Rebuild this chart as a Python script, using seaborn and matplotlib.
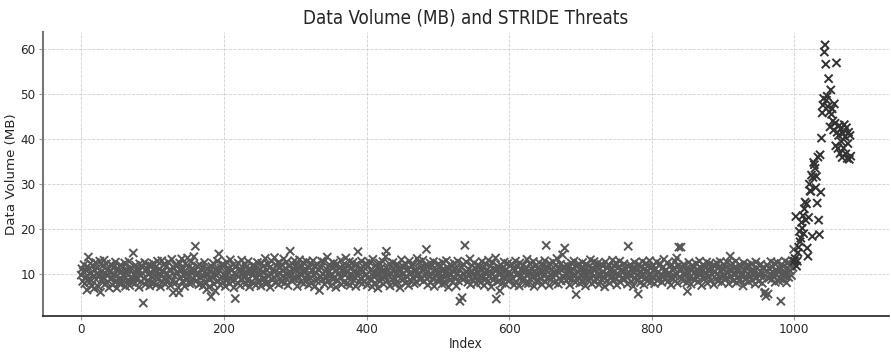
import numpy as np
import pandas as pd
import matplotlib.pyplot as plt
import seaborn as sns

# normal traffic, index 0-999
normal_volume = [
    9.8, 11.2, 8.4, 10.6, 12.1, 7.9, 9.3, 10.8, 6.5, 11.7, 13.8, 9.1, 8.2, 12.4, 10.3, 7.4, 11.9, 9.6, 6.8, 10.9,
    12.6, 8.8, 10.1, 11.4, 7.2, 9.9, 12.9, 6.0, 10.5, 8.6, 11.8, 9.4, 13.1, 7.7, 10.2, 12.3, 8.1, 9.7, 11.1, 7.0,
    10.4, 8.9, 12.2, 9.2, 7.6, 11.5, 10.0, 8.3, 12.7, 9.5, 6.9, 11.3, 10.7, 8.0, 9.0, 12.0, 7.8, 10.6, 11.6, 8.7,
    9.6, 12.5, 7.3, 10.3, 11.0, 8.5, 9.8, 12.8, 7.5, 10.9, 11.4, 8.2, 9.1, 14.7, 10.1, 7.9, 12.0, 9.4, 8.8, 11.2,
    10.5, 7.1, 12.3, 9.7, 8.4, 11.6, 10.2, 3.6, 9.0, 12.6, 7.7, 10.8, 11.3, 8.6, 9.9, 12.1, 7.4, 10.4, 8.1, 11.8,
    9.3, 12.4, 8.0, 10.7, 11.5, 7.6, 9.5, 12.9, 8.9, 10.0, 11.1, 7.2, 9.8, 13.0, 8.3, 10.6, 12.2, 9.1, 7.8, 11.7,
    10.2, 8.7, 12.7, 9.4, 11.0, 7.5, 10.9, 13.3, 8.5, 5.9, 11.4, 9.6, 12.0, 8.2, 10.4, 11.9, 7.0, 5.9, 12.5, 9.2,
    10.8, 13.4, 8.4, 11.2, 9.7, 7.3, 12.3, 10.1, 8.8, 13.6, 9.5, 11.6, 7.9, 10.5, 12.8, 8.1, 11.3, 9.0, 13.9, 10.7,
    16.2, 9.8, 8.6, 11.8, 10.3, 7.7, 12.1, 9.3, 8.0, 10.9, 11.5, 7.4, 9.6, 12.6, 8.3, 10.0, 6.6, 11.2, 9.9, 7.1,
    10.6, 8.9, 5.0, 11.7, 9.2, 12.4, 7.8, 10.2, 6.3, 11.1, 9.7, 12.9, 8.5, 14.5, 10.8, 7.6, 11.4, 9.4, 12.2, 8.2,
    10.0, 11.9, 7.3, 9.6, 12.7, 8.7, 10.5, 11.3, 7.9, 13.2, 9.1, 10.9, 8.4, 12.1, 7.0, 10.3, 4.6, 11.6, 9.8, 8.1,
    12.5, 9.5, 10.7, 7.5, 11.0, 13.1, 8.8, 10.1, 9.3, 12.3, 7.7, 11.5, 10.4, 8.6, 12.8, 9.0, 7.2, 11.2, 10.6, 8.3,
    9.7, 12.0, 8.0, 10.8, 11.7, 7.6, 9.4, 12.6, 10.2, 8.5, 11.1, 9.9, 7.4, 12.4, 10.5, 8.9, 11.8, 9.2, 13.5, 7.8,
    10.9, 8.2, 12.2, 9.6, 11.4, 7.1, 10.0, 12.9, 8.7, 11.0, 9.3, 13.7, 10.6, 8.1, 11.9, 9.8, 12.5, 7.7, 10.3, 11.6,
    8.4, 12.1, 9.5, 10.7, 13.4, 8.0, 11.3, 9.1, 12.7, 10.1, 7.5, 11.8, 9.7, 15.1, 10.4, 8.6, 12.3, 9.0, 11.1, 13.0,
    8.9, 10.8, 12.0, 7.3, 11.5, 9.4, 13.2, 10.2, 8.3, 11.7, 9.9, 12.6, 7.9, 10.5, 11.2, 8.7, 12.8, 9.6, 10.0, 7.6,
    11.4, 9.2, 12.4, 8.1, 10.7, 13.0, 9.8, 7.2, 11.9, 10.3, 8.5, 12.2, 9.0, 10.9, 6.4, 11.6, 9.5, 12.9, 8.8, 10.1,
    12.7, 7.8, 10.6, 9.3, 11.1, 13.8, 8.4, 10.4, 12.1, 9.7, 7.4, 11.5, 10.0, 8.9, 12.5, 9.1, 11.8, 7.1, 10.8, 12.3,
    8.6, 10.2, 11.3, 9.4, 13.1, 7.7, 10.9, 12.0, 8.2, 11.0, 9.8, 13.6, 10.5, 8.0, 11.7, 9.2, 12.8, 7.5, 10.1, 11.4,
    9.6, 12.6, 8.7, 10.7, 11.9, 7.3, 9.9, 12.2, 15.0, 10.3, 8.3, 11.2, 9.0, 12.9, 7.9, 10.6, 11.6, 8.5, 9.7, 12.4,
    10.0, 7.6, 11.8, 9.3, 12.7, 8.8, 10.8, 11.1, 7.2, 13.3, 9.5, 10.4, 8.1, 12.0, 9.8, 11.5, 6.9, 10.2, 12.5, 8.4,
    11.3, 9.1, 10.6, 12.8, 7.8, 10.9, 9.4, 13.9, 15.1, 8.6, 11.0, 9.7, 12.3, 7.4, 10.1, 11.7, 8.9, 12.6, 10.5, 9.2,
    7.7, 11.9, 10.3, 8.3, 12.1, 9.6, 11.4, 7.0, 10.7, 13.2, 8.7, 10.0, 11.6, 9.0, 12.4, 8.0, 10.8, 9.5, 11.2, 7.5,
    12.9, 9.9, 10.4, 8.5, 11.8, 9.3, 12.2, 7.9, 10.6, 11.0, 8.2, 13.5, 9.7, 10.2, 12.7, 8.8, 11.5, 9.1, 10.9, 13.1,
    8.4, 11.3, 9.6, 12.0, 15.5, 10.5, 7.6, 11.7, 9.4, 12.5, 8.1, 10.1, 11.9, 9.0, 12.8, 7.3, 10.7, 9.8, 11.1, 8.6,
    10.3, 12.3, 8.9, 11.6, 9.2, 10.8, 7.8, 12.6, 9.5, 11.0, 8.0, 10.4, 13.0, 9.7, 11.4, 7.1, 10.0, 12.1, 8.7, 9.9,
    11.8, 8.3, 10.6, 12.4, 9.1, 11.2, 7.4, 10.2, 12.9, 8.5, 10.9, 4.0, 9.6, 11.5, 4.8, 8.8, 12.2, 10.1, 16.4, 9.3,
    12.7, 10.5, 8.2, 11.1, 9.8, 13.4, 7.7, 10.7, 11.9, 8.6, 10.0, 12.5, 9.4, 11.3, 7.9, 10.4, 12.0, 8.9, 9.6, 11.7,
    8.1, 10.8, 12.8, 9.2, 11.4, 7.5, 10.3, 12.3, 9.0, 11.0, 8.4, 13.1, 10.6, 9.7, 11.8, 7.2, 10.1, 12.6, 8.7, 11.2,
    9.5, 13.6, 4.5, 10.9, 8.3, 11.6, 9.9, 6.3, 12.1, 10.2, 8.0, 11.5, 9.3, 12.7, 10.7, 7.8, 11.0, 9.6, 12.4, 8.5,
    10.5, 11.9, 8.8, 10.0, 12.2, 9.1, 11.3, 7.6, 10.8, 12.9, 8.2, 9.8, 11.7, 10.3, 7.4, 12.5, 9.4, 11.1, 8.6, 10.6,
    12.0, 9.2, 10.9, 8.0, 11.5, 13.3, 9.7, 7.9, 10.4, 12.3, 8.9, 11.2, 10.1, 9.5, 12.8, 7.3, 10.7, 11.8, 8.4, 9.9,
    11.4, 8.7, 12.6, 10.2, 9.0, 11.0, 7.7, 10.5, 12.1, 9.6, 13.0, 8.3, 16.4, 10.8, 11.6, 9.3, 7.5, 12.4, 10.0, 8.8,
    11.1, 9.4, 12.7, 10.3, 8.1, 11.9, 9.8, 13.5, 10.6, 7.8, 11.3, 9.1, 12.2, 8.5, 10.9, 14.3, 9.5, 11.7, 15.8, 10.1,
    8.6, 12.0, 10.4, 9.0, 11.5, 7.6, 10.7, 12.5, 8.9, 11.2, 9.7, 12.9, 10.0, 8.2, 5.5, 11.8, 9.3, 10.5, 12.3, 8.0,
    10.8, 11.4, 9.6, 12.6, 8.4, 10.2, 11.0, 7.4, 9.9, 12.1, 10.6, 8.7, 11.7, 9.2, 13.2, 10.3, 7.9, 11.3, 9.5, 12.8,
    8.3, 10.9, 11.6, 9.1, 12.4, 10.0, 7.7, 11.1, 9.8, 12.2, 8.8, 10.5, 11.9, 9.4, 7.2, 12.7, 10.1, 8.5, 11.4, 9.7,
    12.0, 8.0, 10.7, 11.2, 9.3, 13.1, 10.4, 8.6, 11.8, 9.0, 12.5, 7.6, 10.2, 11.5, 9.6, 12.9, 8.2, 10.8, 11.0, 9.2,
    10.6, 12.3, 8.9, 11.3, 9.5, 10.0, 7.8, 16.2, 11.7, 9.8, 12.1, 8.4, 10.9, 11.4, 7.3, 10.3, 12.6, 9.1, 11.0, 8.7,
    9.9, 5.6, 12.2, 10.5, 8.1, 11.6, 9.4, 12.8, 10.1, 7.7, 11.2, 9.0, 12.4, 10.7, 8.5, 11.8, 9.6, 13.0, 10.2, 8.3,
    11.5, 9.3, 12.0, 10.8, 7.9, 11.1, 9.7, 12.7, 8.6, 10.4, 11.9, 9.1, 12.3, 10.0, 8.2, 11.4, 9.5, 13.3, 10.6, 8.8,
    11.0, 9.8, 12.5, 8.4, 10.3, 11.7, 9.2, 7.6, 12.1, 10.9, 8.9, 11.3, 9.6, 12.8, 10.1, 13.6, 8.0, 11.8, 16.0, 9.4,
    10.7, 16.0, 9.0, 11.6, 8.5, 12.2, 10.2, 9.7, 11.2, 8.1, 6.2, 10.5, 12.6, 9.3, 11.0, 7.8, 10.8, 12.0, 9.1, 11.5,
    8.7, 10.4, 12.4, 9.5, 11.1, 8.3, 10.0, 12.9, 9.8, 11.4, 7.5, 10.6, 12.1, 8.9, 11.7, 9.2, 10.3, 12.7, 8.0, 11.0,
    9.6, 12.3, 10.9, 8.6, 11.3, 9.9, 12.0, 7.7, 10.5, 11.8, 9.0, 12.5, 10.1, 8.4, 11.5, 9.4, 12.8, 10.7, 8.2, 11.2,
    9.7, 12.2, 10.0, 8.8, 11.6, 9.1, 12.6, 10.4, 7.9, 11.0, 14.0, 9.5, 10.8, 12.4, 8.5, 11.3, 9.8, 10.2, 12.9, 8.1,
    11.1, 9.3, 10.6, 12.1, 8.7, 11.7, 9.6, 10.3, 7.4, 12.5, 10.9, 8.9, 11.4, 9.0, 12.0, 10.1, 8.3, 11.8, 9.5, 10.7,
    12.3, 8.6, 11.0, 9.8, 10.5, 7.8, 12.7, 9.2, 11.3, 10.0, 8.4, 11.9, 9.7, 12.2, 10.4, 8.0, 11.5, 9.4, 5.8, 6.0,
    5.1, 10.8, 12.0, 5.6, 9.1, 11.2, 10.1, 12.8, 8.8, 11.6, 9.5, 10.3, 12.4, 8.2, 11.0, 9.9, 12.6, 10.6, 8.5, 11.4,
    9.0, 4.0, 12.1, 10.2, 8.7, 11.8, 9.6, 12.9, 10.4, 8.1, 11.3, 12.5, 9.3, 11.9, 10.8, 12.2, 9.7, 13.0, 11.5, 15.5,
]

# threat period, index 1000-1079
threat_volume = [
    12.9, 13.5, 22.8, 11.8, 12.9, 14.8, 16.0, 19.5, 17.2, 18.0,
    21.5, 20.2, 23.0, 19.0, 24.5, 26.0, 22.0, 25.6, 15.8, 14.0,
    22.6, 30.0, 28.5, 28.4, 32.0, 18.4, 31.5, 34.8, 34.3, 33.5,
    29.2, 31.7, 25.8, 36.0, 22.0, 18.8, 36.5, 28.2, 40.2, 45.8,
    47.5, 49.0, 59.3, 60.9, 56.6, 48.6, 49.5, 47.2, 53.4, 46.0,
    42.7, 50.9, 45.5, 46.7, 44.0, 42.0, 47.8, 43.5, 38.5, 56.9,
    41.5, 37.9, 40.8, 43.0, 36.8, 42.2, 39.4, 35.9, 41.2, 38.0,
    43.2, 40.5, 36.7, 42.5, 35.7, 39.0, 41.5, 35.5, 40.8, 36.2,
]

volume = normal_volume + threat_volume
threat = ['None'] * len(normal_volume) + ['Threat'] * len(threat_volume)
df = pd.DataFrame({'Index': np.arange(len(volume)), 'Data Volume (MB)': volume, 'Threat': threat})

sns.set_style('whitegrid', {'grid.linestyle': '--', 'grid.color': '#d0d0d0'})
plt.rcParams['font.family'] = ['DejaVu Sans']
plt.rcParams['font.stretch'] = 'condensed'

fig, ax = plt.subplots(figsize=(8.91, 3.55), dpi=100)
fig.subplots_adjust(left=0.048, right=0.998, bottom=0.11, top=0.91)

sns.scatterplot(data=df, x='Index', y='Data Volume (MB)', hue='Threat',
                palette={'None': '#575757', 'Threat': '#333333'},
                marker='x', s=34, linewidth=1.4, legend=False, ax=ax)

ax.set_title('Data Volume (MB) and STRIDE Threats', fontsize=13.5)
ax.set_xlabel('Index', fontsize=9.8, labelpad=1)
ax.set_ylabel('Data Volume (MB)', fontsize=9.6, fontstretch='normal', labelpad=2)
ax.tick_params(labelsize=9.6, length=3, width=0.8, color='#999999', pad=2, left=True, bottom=True)
ax.set_yticks([10, 20, 30, 40, 50, 60])
ax.set_xticks([0, 200, 400, 600, 800, 1000])
ax.grid(True, linestyle='--', linewidth=0.6, color='#d0d0d0')

sns.despine(ax=ax)
ax.spines['left'].set_color('#777777')
ax.spines['left'].set_linewidth(1.5)
ax.spines['bottom'].set_color('#222222')
ax.spines['bottom'].set_linewidth(1.2)

fig.savefig('out.png', dpi=100)
